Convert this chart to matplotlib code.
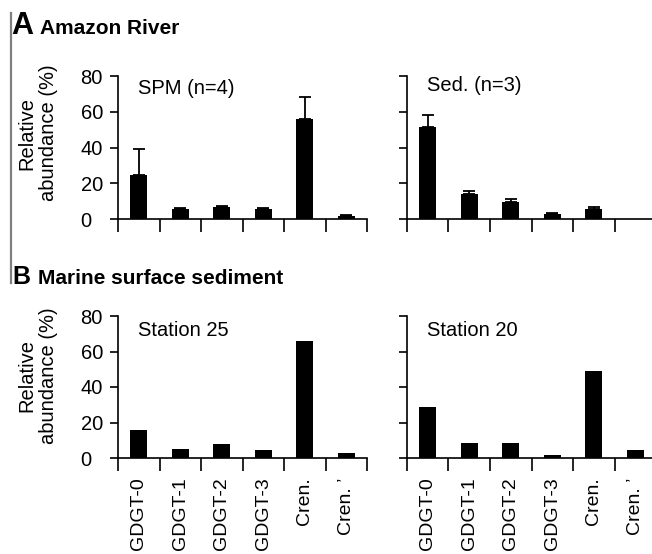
import numpy as np
import matplotlib.pyplot as plt
from matplotlib.lines import Line2D

plt.rcParams['font.family'] = ['Liberation Sans', 'DejaVu Sans']

compounds = ['GDGT-0', 'GDGT-1', 'GDGT-2', 'GDGT-3', 'Cren.', 'Cren. \u2019']

# Amazon River, mean and upper error (%)
spm_mean = [24.6, 5.8, 6.5, 5.5, 55.9, 1.4]
spm_err = [14.4, 0.5, 0.8, 0.8, 12.4, 0.6]
sed_mean = [51.7, 14.0, 9.7, 2.6, 5.4, 0.0]
sed_err = [6.7, 1.8, 1.6, 0.5, 1.1, 0.0]

# marine surface sediment (%)
st25 = [15.8, 5.1, 7.7, 4.7, 65.7, 3.0]
st20 = [28.9, 8.3, 8.6, 1.5, 49.0, 4.3]

W, H = 652, 554
fig = plt.figure(figsize=(W / 100, H / 100), dpi=100)


def px_axes(x0, x1, y_top, y_bot):
    return fig.add_axes([x0 / W, 1 - y_bot / H, (x1 - x0) / W, (y_bot - y_top) / H])


def draw_panel(ax, vals, err, title, title_y, ylabels, xlabels):
    x = np.arange(len(compounds))
    ax.bar(x, vals, width=0.41, color='black', zorder=2)
    if err is not None:
        mask = np.array(err) > 0
        ax.errorbar(x[mask], np.array(vals)[mask],
                    yerr=[np.zeros(mask.sum()), np.array(err)[mask]],
                    fmt='none', ecolor='black', elinewidth=1.3,
                    capsize=4, capthick=1.3, zorder=3)
    ax.set_xlim(-0.5, len(compounds) - 0.5)
    ax.set_ylim(0, 80)
    for s in ['top', 'right']:
        ax.spines[s].set_visible(False)
    for s in ['left', 'bottom']:
        ax.spines[s].set_linewidth(1.2)
    ax.spines['left'].set_bounds(0, 80)
    ax.set_yticks([0, 20, 40, 60, 80])
    ax.tick_params(axis='y', length=6, width=1.2, direction='out', pad=21,
                   labelsize=14.5)
    if ylabels:
        for lab in ax.get_yticklabels():
            lab.set_horizontalalignment('left')
    else:
        ax.set_yticklabels([])
    # boundary ticks between categories
    ax.set_xticks(np.arange(len(compounds) + 1) - 0.5, minor=True)
    ax.tick_params(axis='x', which='minor', length=9, width=1.2, direction='out')
    ax.set_xticks(x)
    ax.tick_params(axis='x', which='major', length=0, pad=14, labelsize=14)
    if xlabels:
        ax.set_xticklabels(compounds, rotation=90, va='top', ha='center')
    else:
        ax.set_xticklabels([])
    ax.text(0.08, title_y, title, transform=ax.transAxes, fontsize=14.5,
            va='center', ha='left')


axA1 = px_axes(118, 367, 76, 219)
axA2 = px_axes(407, 656, 76, 219)
axB1 = px_axes(118, 367, 316, 458)
axB2 = px_axes(407, 656, 316, 458)

draw_panel(axA1, spm_mean, spm_err, 'SPM (n=4)', 0.915, True, False)
draw_panel(axA2, sed_mean, sed_err, 'Sed. (n=3)', 0.935, False, False)
draw_panel(axB1, st25, None, 'Station 25', 0.9, True, True)
draw_panel(axB2, st20, None, 'Station 20', 0.9, False, True)

# y-axis titles
for yc in [133, 376]:
    fig.text(38 / W, 1 - yc / H, 'Relative\nabundance (%)', rotation=90,
             ha='center', va='center', fontsize=14.5, linespacing=1.2)

# panel headers
fig.text(11 / W, 1 - 34 / H, 'A', fontsize=22, fontweight='bold', va='baseline')
fig.text(40 / W, 1 - 34 / H, 'Amazon River', fontsize=15, fontweight='bold',
         va='baseline')
fig.text(12 / W, 1 - 284 / H, 'B', fontsize=18, fontweight='bold', va='baseline')
fig.text(38 / W, 1 - 284 / H, 'Marine surface sediment', fontsize=15,
         fontweight='bold', va='baseline')

# gray bracket along the left edge
fig.add_artist(Line2D([11 / W, 11 / W], [1 - 13 / H, 1 - 283 / H],
                      color='#808080', linewidth=1.6))

fig.savefig('out.png', dpi=100)
